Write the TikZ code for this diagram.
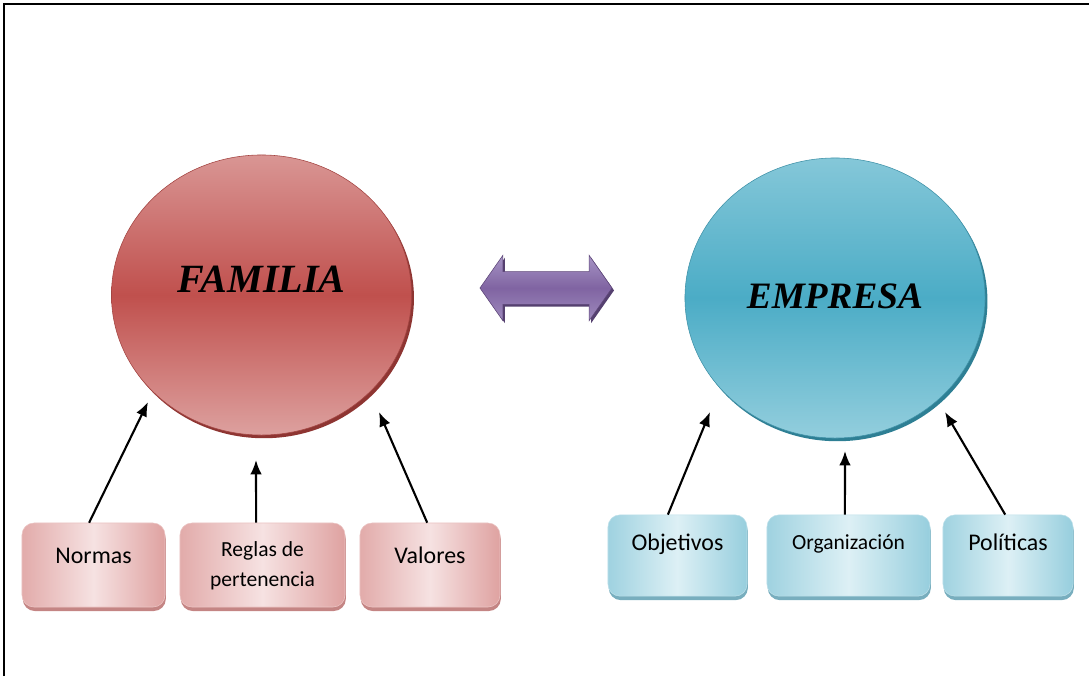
\documentclass[tikz,border=0pt]{standalone}
\usepackage{fontspec}
\setmainfont{Carlito}
\newfontfamily\headfont{Liberation Serif}
\usetikzlibrary{arrows.meta,shapes.geometric,shapes.arrows,shadows}
\definecolor{famred}{HTML}{C0504D}
\definecolor{famlight}{HTML}{D99694}
\definecolor{famdark}{HTML}{8E3532}
\definecolor{empblue}{HTML}{4BACC6}
\definecolor{emplight}{HTML}{93CEDD}
\definecolor{empdark}{HTML}{2E7F94}
\definecolor{pinkedge}{HTML}{E2ABAA}
\definecolor{pinkmid}{HTML}{F6E2E2}
\definecolor{pinkshade}{HTML}{C48584}
\definecolor{blueedge}{HTML}{9FD2E0}
\definecolor{bluemid}{HTML}{DDF0F5}
\definecolor{blueshade}{HTML}{78AEBE}
\definecolor{purp}{HTML}{8064A2}
\definecolor{purplight}{HTML}{A694C4}
\definecolor{purpdark}{HTML}{55406F}

\begin{document}
\begin{tikzpicture}[x=0.025cm,y=-0.025cm,
  bigcirc/.style={ellipse,minimum width=7.5cm,minimum height=7cm,inner sep=0pt,
    font=\headfont\bfseries\itshape\fontsize{28.5pt}{32pt}\selectfont},
  boxbase/.style={rectangle,rounded corners=0.3cm,inner sep=2pt,align=center,
    font=\fontsize{17pt}{22pt}\selectfont},
  pinkbox/.style={boxbase,minimum height=2.1cm,draw=pinkedge!70!white,
    left color=pinkedge,right color=pinkedge!90!famred,middle color=pinkmid,
    drop shadow={shadow xshift=0.02cm,shadow yshift=-0.1cm,fill=pinkshade,opacity=1}},
  bluebox/.style={boxbase,minimum height=2.03cm,draw=blueedge!70!white,
    left color=blueedge,right color=blueedge!90!empblue,middle color=bluemid,
    drop shadow={shadow xshift=0.02cm,shadow yshift=-0.1cm,fill=blueshade,opacity=1}},
  conn/.style={line width=1.5pt,-{Latex[length=0.36cm,width=0.29cm]}}]
\useasboundingbox (0,0) rectangle (1089,676);

%frame
\draw[line width=1.8pt] (4,676) -- (4,4) -- (1089,4);

%circles
\node[bigcirc,draw=famred!85!black,top color=famlight,bottom color=famlight!90!white,middle color=famred,
  drop shadow={shadow xshift=0.06cm,shadow yshift=-0.08cm,fill=famdark,opacity=1}]
  (fam) at (261.5,295) {\raisebox{0.775cm}{FAMILIA}};
\node[bigcirc,draw=empblue!85!black,top color=emplight!80!empblue,bottom color=emplight,middle color=empblue,
  font=\headfont\bfseries\itshape\fontsize{26.5pt}{30pt}\selectfont,
  drop shadow={shadow xshift=0.06cm,shadow yshift=-0.08cm,fill=empdark,opacity=1}]
  (emp) at (835,298) {\raisebox{0.1cm}{EMPRESA}};

%double arrow
\node[double arrow,double arrow tip angle=110,double arrow head extend=0.41cm,
  minimum width=1.62cm,minimum height=3.3cm,inner sep=0pt,text height=0.8cm,
  draw=purpdark!80!purp,top color=purplight,bottom color=purplight!80!purp,middle color=purp,
  drop shadow={shadow xshift=0.05cm,shadow yshift=-0.06cm,fill=purpdark,opacity=1}]
  (link) at (546,288) {};

%boxes familia
\node[pinkbox,minimum width=3.575cm] (normas) at (93.5,565) {\raisebox{0.475cm}{Normas}};
\node[pinkbox,minimum width=4.125cm,font=\fontsize{15.3pt}{22.5pt}\selectfont] (reglas) at (262.5,565) {\raisebox{-0.07cm}{\begin{tabular}{@{}c@{}}Reglas de\\[-0.05cm]pertenencia\end{tabular}}};
\node[pinkbox,minimum width=3.5cm] (valores) at (430,565) {\raisebox{0.5cm}{Valores}};

%boxes empresa
\node[bluebox,minimum width=3.475cm] (objetivos) at (677.5,555.5) {\raisebox{0.675cm}{Objetivos}};
\node[bluebox,minimum width=4.075cm,font=\fontsize{15.3pt}{22pt}\selectfont] (organizacion) at (848.5,555.5) {\raisebox{0.65cm}{Organización}};
\node[bluebox,minimum width=3.25cm] (politicas) at (1008,555.5) {\raisebox{0.675cm}{Políticas}};

%arrow tips
\coordinate (famsw) at (148,402);
\coordinate (fams) at (256,460);
\coordinate (famse) at (379,412);
\coordinate (empsw) at (710,412);
\coordinate (emps) at (845,451);
\coordinate (empse) at (945,412);

%arrows
\draw[conn] ([xshift=-0.11cm]normas.north) -- (famsw);
\draw[conn] ([xshift=-0.16cm]reglas.north) -- (fams);
\draw[conn] ([xshift=-0.07cm]valores.north) -- (famse);
\draw[conn] ([xshift=-0.24cm]objetivos.north) -- (empsw);
\draw[conn] ([xshift=-0.09cm]organizacion.north) -- (emps);
\draw[conn] ([xshift=-0.07cm]politicas.north) -- (empse);
\end{tikzpicture}
\end{document}
